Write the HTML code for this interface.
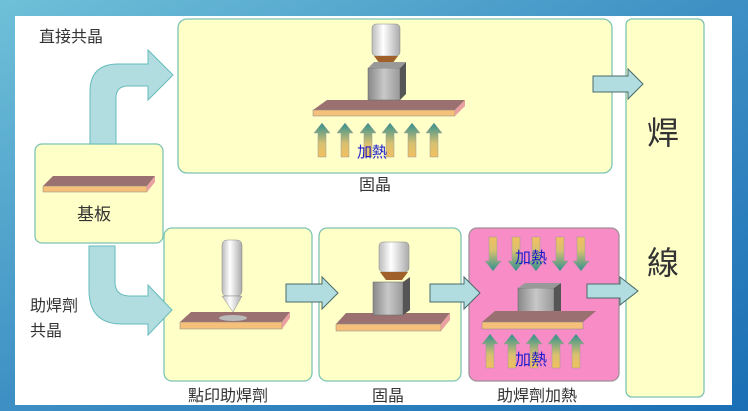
<!DOCTYPE html>
<html><head><meta charset="utf-8"><style>
body{margin:0;width:748px;height:411px;overflow:hidden;background:#2a7fb8}
svg{display:block}
text{font-family:"Liberation Sans","Noto Sans CJK TC",sans-serif}
</style></head><body>
<svg width="748" height="411" viewBox="0 0 748 411">
<defs>
<linearGradient id="bg" x1="0" y1="0" x2="1" y2="1"><stop offset="0" stop-color="#6fc0d8"/><stop offset="0.5" stop-color="#3d8fc4"/><stop offset="1" stop-color="#1a6fb5"/></linearGradient>
<linearGradient id="up" x1="0" y1="0" x2="0" y2="1"><stop offset="0" stop-color="#2f9090"/><stop offset="0.6" stop-color="#d8c070"/><stop offset="1" stop-color="#f2c060"/></linearGradient>
<linearGradient id="dn" x1="0" y1="1" x2="0" y2="0"><stop offset="0" stop-color="#2f9090"/><stop offset="0.6" stop-color="#d8c070"/><stop offset="1" stop-color="#f2c060"/></linearGradient>
<linearGradient id="cyl" x1="0" y1="0" x2="1" y2="0"><stop offset="0" stop-color="#bbb"/><stop offset="0.4" stop-color="#fff"/><stop offset="1" stop-color="#aaa"/></linearGradient>
<linearGradient id="cube" x1="0" y1="0" x2="1" y2="0"><stop offset="0" stop-color="#888"/><stop offset="0.5" stop-color="#c8c8c8"/><stop offset="1" stop-color="#999"/></linearGradient>
<g id="ua"><path d="M-4 0 V-24 H-8 L0 -34 L8 -24 H4 V0 Z" fill="url(#up)" stroke="#999" stroke-width="0.5"/></g>
<g id="da"><path d="M-4 0 V24 H-8 L0 34 L8 24 H4 V0 Z" fill="url(#dn)" stroke="#999" stroke-width="0.5"/></g>
</defs>
<rect width="748" height="411" fill="url(#bg)"/>
<rect x="15" y="16" width="717" height="389" fill="#fff"/>
<!-- boxes -->
<g stroke="#7cc4b4" stroke-width="1.3" fill="#ffffc8">
<rect x="178" y="19" width="434" height="154" rx="9"/>
<rect x="35" y="144" width="128" height="99" rx="7"/>
<rect x="164" y="228" width="148" height="153" rx="8"/>
<rect x="319" y="228" width="142" height="153" rx="8"/>
<rect x="626" y="19" width="78" height="378" rx="6"/>
</g>
<rect x="469" y="228" width="150" height="153" rx="8" fill="#f78cc6" stroke="#a09098" stroke-width="1.3"/>
<!-- curved arrows -->
<path d="M90 144 V92 Q90 64 118 64 H148 V50 L173 75 L148 100 V86 H128 Q116 86 116 98 V144 Z" fill="#b2dde0" stroke="#6bb" stroke-width="1"/>
<path d="M89 246 H115 V282 Q115 296 130 296 H148 V285 L172 310 L148 335 V324 H122 Q89 324 89 290 Z" fill="#b2dde0" stroke="#6bb" stroke-width="1"/>
<!-- straight arrows -->
<g fill="#b2dde0" stroke="#4a6a6a" stroke-width="1">
<path d="M593 76 H628 V69 L643 84 L628 99 V92 H593 Z"/>
<path d="M286 284 H322 V277 L338 293 L322 309 V302 H286 Z"/>
<path d="M430 284 H464 V277 L480 293 L464 309 V302 H430 Z"/>
<path d="M587 284 H620 V277 L638 291 L620 305 V298 H587 Z"/>
</g>
<!-- board in base box -->
<g><path d="M53 176 L155 176 L147 186 L43 186 Z" fill="#9b7070"/><rect x="43" y="186" width="104" height="6" fill="#f5c07a" stroke="#888" stroke-width="0.5"/><path d="M147 186 L155 176 L155 182 L147 192 Z" fill="#e8a0a0"/></g>
<!-- top box board -->
<path d="M327 100 L465 100 L455 110 L313 110 Z" fill="#9b7070"/><rect x="313" y="110" width="142" height="6" fill="#f5c07a" stroke="#888" stroke-width="0.5"/><path d="M455 110 L465 100 L465 106 L455 116 Z" fill="#e8a0a0"/>
<!-- nozzle + cube top -->
<rect x="372" y="24" width="28" height="32" rx="4" fill="url(#cyl)" stroke="#888" stroke-width="0.5"/>
<path d="M374 56 H398 L392 64 H380 Z" fill="#a0602a"/>
<rect x="368" y="68" width="32" height="32" fill="url(#cube)" stroke="#666" stroke-width="0.5"/>
<path d="M400 68 L406 62 V94 L400 100 Z" fill="#555"/><path d="M368 68 L374 62 H406 L400 68Z" fill="#999"/>
<g><use href="#ua" x="322" y="157"/><use href="#ua" x="345" y="157"/><use href="#ua" x="368" y="157"/><use href="#ua" x="390" y="157"/><use href="#ua" x="412" y="157"/><use href="#ua" x="434" y="157"/></g>
<text x="357" y="157" font-size="15" fill="#1c1ccc">加熱</text>
<!-- dispense -->
<path d="M191 312 L290 312 L282 322 L180 322 Z" fill="#9b7070"/><rect x="180" y="322" width="102" height="7" fill="#f5c07a" stroke="#888" stroke-width="0.5"/><path d="M282 322 L290 312 L290 318 L282 329 Z" fill="#e8a0a0"/>
<ellipse cx="233" cy="318" rx="14" ry="3" fill="#bbb"/>
<rect x="222" y="240" width="20" height="56" rx="5" fill="url(#cyl)" stroke="#888" stroke-width="0.5"/>
<path d="M222 296 H242 L233 312 Z" fill="url(#cyl)" stroke="#888" stroke-width="0.5"/>
<!-- bond 2 -->
<path d="M346 313 L450 313 L441 324 L336 324 Z" fill="#9b7070"/><rect x="336" y="324" width="105" height="7" fill="#f5c07a" stroke="#888" stroke-width="0.5"/><path d="M441 324 L450 313 L450 320 L441 331 Z" fill="#e8a0a0"/>
<rect x="379" y="242" width="30" height="30" rx="4" fill="url(#cyl)" stroke="#888" stroke-width="0.5"/>
<path d="M380 272 H408 L402 280 H386 Z" fill="#a0602a"/>
<rect x="373" y="282" width="30" height="33" fill="url(#cube)" stroke="#666" stroke-width="0.5"/>
<path d="M403 282 L410 277 V310 L403 315 Z" fill="#555"/>
<!-- flux heat -->
<g><use href="#da" x="493" y="237"/><use href="#da" x="516" y="237"/><use href="#da" x="536" y="237"/><use href="#da" x="560" y="237"/><use href="#da" x="581" y="237"/></g>
<rect x="518" y="288" width="36" height="32" fill="url(#cube)" stroke="#666" stroke-width="0.5"/>
<path d="M554 288 L561 283 V315 L554 320 Z" fill="#555"/><path d="M518 288 L525 283 H561 L554 288Z" fill="#999"/>
<path d="M495 311 L596 311 L583 322 L482 322 Z" fill="#9b7070"/><rect x="482" y="322" width="101" height="7" fill="#f5c07a" stroke="#888" stroke-width="0.5"/>
<g><use href="#ua" x="490" y="368"/><use href="#ua" x="512" y="368"/><use href="#ua" x="534" y="368"/><use href="#ua" x="556" y="368"/><use href="#ua" x="576" y="368"/></g>
<text x="515" y="263" font-size="16" fill="#1c1ccc">加熱</text>
<text x="515" y="365" font-size="16" fill="#1c1ccc">加熱</text>
<!-- labels -->
<g fill="#333" font-size="16">
<text x="39" y="42">直接共晶</text>
<text x="359" y="190">固晶</text>
<text x="77" y="220" font-size="17">基板</text>
<text x="30" y="311">助焊劑</text>
<text x="30" y="336">共晶</text>
<text x="188" y="401">點印助焊劑</text>
<text x="372" y="401">固晶</text>
<text x="497" y="401">助焊劑加熱</text>
<text x="647" y="144" font-size="32">焊</text>
<text x="647" y="274" font-size="32">線</text>
</g>
</svg>
</body></html>
